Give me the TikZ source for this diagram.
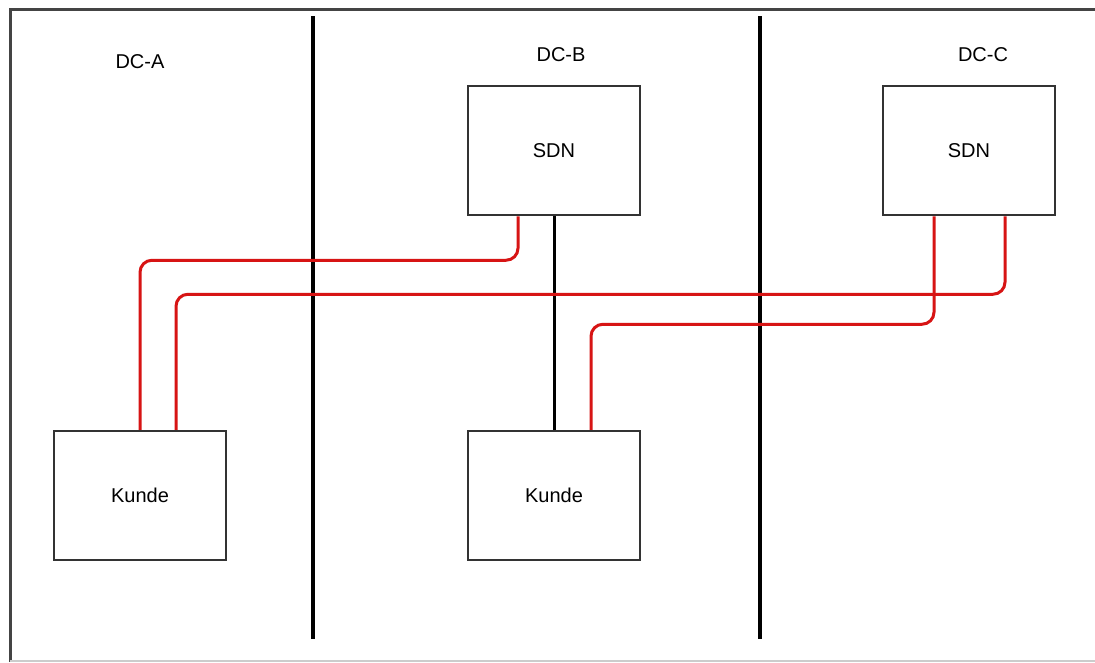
\documentclass[tikz,border=0pt]{standalone}
\usepackage{fontspec}
\setmainfont{Liberation Sans}
\usetikzlibrary{calc}
\definecolor{boxgray}{HTML}{333333}
\definecolor{framegray}{HTML}{444444}
\definecolor{lightframe}{HTML}{CCCCCC}
\definecolor{linkred}{RGB}{215,20,20}
\tikzset{
  box/.style={draw=boxgray, line width=2.5pt, fill=white, rectangle,
    minimum width=172pt, minimum height=129pt, inner sep=0pt,
    font=\fontsize{20}{24}\selectfont},
  dclabel/.style={font=\fontsize{20}{24}\selectfont, inner sep=0pt},
  divider/.style={draw=black, line width=3.5pt},
  blackline/.style={draw=black, line width=3pt},
  redline/.style={draw=linkred, line width=3pt, rounded corners=12pt},
}
\begin{document}
\begin{tikzpicture}[x=1pt, y=-1pt]
\useasboundingbox (0,0) rectangle (1095,662);
\fill[white] (0,0) rectangle (1095,662);
% frame
\draw[framegray, line width=3pt] (9,9.5) -- (1095,9.5);
\draw[framegray, line width=3.5pt] (10.7,8) -- (10.7,662);
\draw[lightframe, line width=2pt] (10,661) -- (1095,661);
% dividers
\coordinate (d1t) at (313,16);
\coordinate (d1b) at (313,639);
\coordinate (d2t) at (760,16);
\coordinate (d2b) at (760,639);
\draw[divider] (d1t) -- (d1b);
\draw[divider] (d2t) -- (d2b);
% labels
\node[dclabel] (dca) at (140,62) {DC-A};
\node[dclabel] (dcb) at (561,55) {DC-B};
\node[dclabel] (dcc) at (983,55) {DC-C};
% boxes
\node[box] (sdnb) at (554,150.5) {SDN};
\node[box] (sdnc) at (969,150.5) {SDN};
\node[box] (kundea) at (140,495.5) {Kunde};
\node[box] (kundeb) at (554,495.5) {Kunde};
% connectors
\draw[blackline] (sdnb.south) -- (kundeb.north);
\coordinate (r1) at ($(sdnb.south)+(-36,0)$);
\draw[redline] (r1) -- ($(r1)+(0,44)$) -| (kundea.north);
\coordinate (r2) at ($(sdnc.south)+(36,0)$);
\draw[redline] (r2) -- ($(r2)+(0,78)$) -| ($(kundea.north)+(36,0)$);
\coordinate (r3) at ($(sdnc.south)+(-35,0)$);
\draw[redline] (r3) -- ($(r3)+(0,108)$) -| ($(kundeb.north)+(37,0)$);
\end{tikzpicture}
\end{document}
